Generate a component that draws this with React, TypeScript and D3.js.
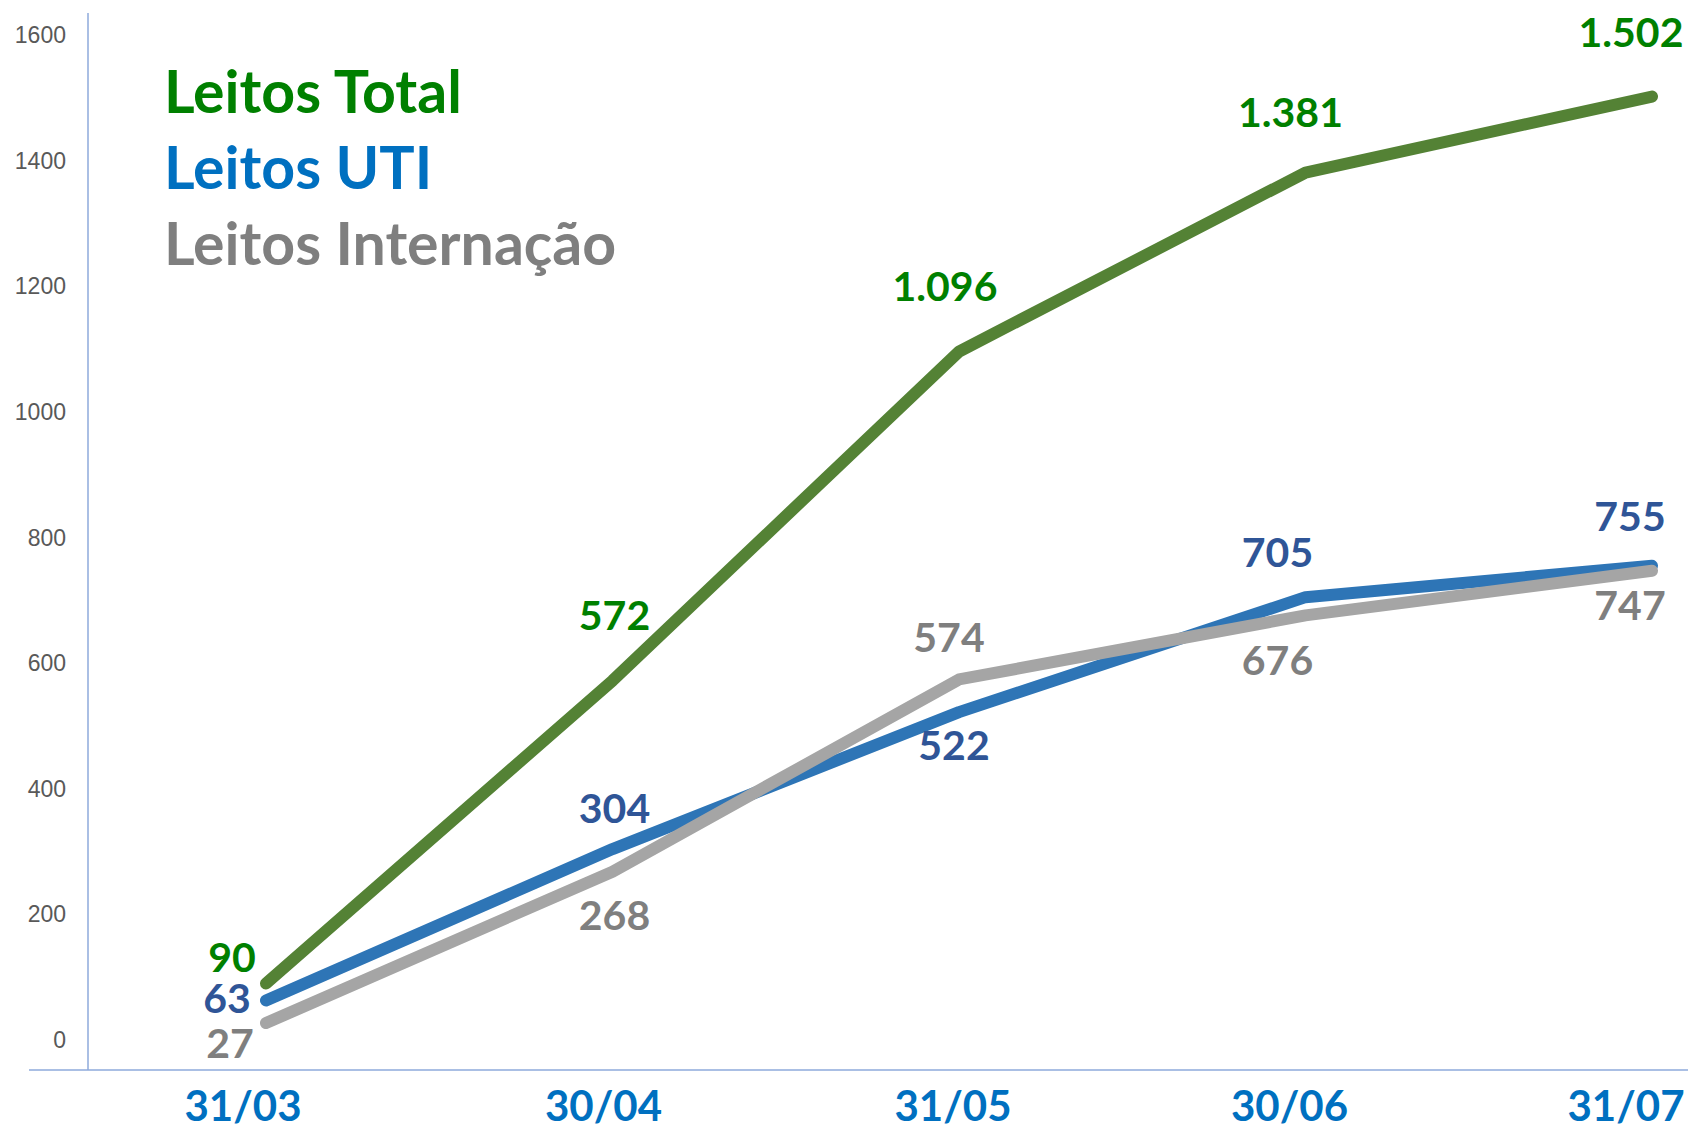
import React from 'react';
import * as d3 from 'd3';

const categories = ['31/03', '30/04', '31/05', '30/06', '31/07'];
const leitosTotal = [90, 572, 1096, 1381, 1502];
const leitosUTI = [63, 304, 522, 705, 755];
const leitosInternacao = [27, 268, 574, 676, 747];
const yTicks = [0, 200, 400, 600, 800, 1000, 1200, 1400, 1600];
const legendLabels = ['Leitos Total', 'Leitos UTI', 'Leitos Internação'];

// label placement offsets (layout only)
const totalOffsets = [[-34, -11], [2, -51], [-14, -51], [-15, -46], [-21, -50]];
const utiOffsets = [[-39, 13], [2, -26], [-5, 48], [-28, -30], [-22, -35]];
const intOffsets = [[-36, 35], [2, 58], [-10, -27], [-28, 60], [-22, 49]];
const xLabelDx = [-23, -9, -6, -16, -26];

const W = 1688;
const H = 1131;
const FONT = 'Lato, "Open Sans", sans-serif';

const locale = d3.formatLocale({ decimal: ',', thousands: '.', grouping: [3], currency: ['R$', ''] });
const fmt = locale.format(',d');

export default function App() {
  const x = d3.scalePoint<string>().domain(categories).range([266, 1652]);
  const y = d3.scaleLinear().domain([0, 1600]).range([1040, 35]);
  const line = d3
    .line<number>()
    .x((_, i) => x(categories[i]) as number)
    .y((d) => y(d));

  const series = [
    { values: leitosTotal, stroke: '#548235', labelColor: '#008000', offsets: totalOffsets, legendColor: '#008000' },
    { values: leitosUTI, stroke: '#2E75B6', labelColor: '#2F5597', offsets: utiOffsets, legendColor: '#0070C0' },
    { values: leitosInternacao, stroke: '#A5A5A5', labelColor: '#7F7F7F', offsets: intOffsets, legendColor: '#7F7F7F' },
  ];

  return (
    <svg width={W} height={H} style={{ position: 'absolute', left: 0, top: 0, display: 'block', background: '#fff' }}>
      {/* axes */}
      <line x1={88} x2={88} y1={13} y2={1070} stroke="#8EAADB" strokeWidth={1.5} />
      <line x1={29} x2={W} y1={1070} y2={1070} stroke="#8EAADB" strokeWidth={1.5} />
      {yTicks.map((t) => (
        <text
          key={t}
          x={66}
          y={y(t)}
          dy="0.35em"
          textAnchor="end"
          fontFamily='"Liberation Sans", Arial, sans-serif'
          fontSize={23}
          fill="#595959"
        >
          {t}
        </text>
      ))}
      {categories.map((c, i) => (
        <text
          key={c}
          x={(x(c) as number) + xLabelDx[i]}
          y={1121}
          textAnchor="middle"
          fontFamily={FONT}
          fontWeight={700}
          fontSize={42}
          fill="#0070C0"
        >
          {c}
        </text>
      ))}
      {/* lines */}
      {series.map((s, k) => (
        <path
          key={k}
          d={line(s.values) as string}
          fill="none"
          stroke={s.stroke}
          strokeWidth={12}
          strokeLinecap="round"
          strokeLinejoin="round"
        />
      ))}
      {/* data labels */}
      {series.map((s, k) =>
        s.values.map((v, i) => (
          <text
            key={`${k}-${i}`}
            x={(x(categories[i]) as number) + s.offsets[i][0]}
            y={y(v) + s.offsets[i][1]}
            textAnchor="middle"
            fontFamily={FONT}
            fontWeight={700}
            fontSize={41}
            fill={s.labelColor}
          >
            {fmt(v)}
          </text>
        ))
      )}
      {/* legend */}
      {legendLabels.map((l, i) => (
        <text
          key={l}
          x={164}
          y={113 + i * 76}
          fontFamily={FONT}
          fontWeight={700}
          fontSize={59}
          fill={series[i].legendColor}
        >
          {l}
        </text>
      ))}
    </svg>
  );
}
